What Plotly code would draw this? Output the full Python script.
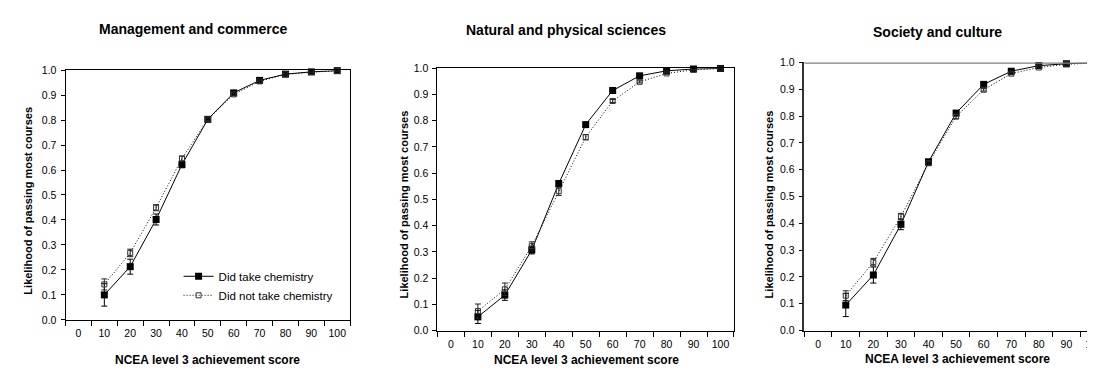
import plotly.graph_objects as go

# ---------------- data ----------------
categories = ["0", "10", "20", "30", "40", "50", "60", "70", "80", "90", "100"]
scores = ["10", "20", "30", "40", "50", "60", "70", "80", "90", "100"]
panel_titles = ["Management and commerce", "Natural and physical sciences", "Society and culture"]
series_names = ["Did take chemistry", "Did not take chemistry"]
x_title = "NCEA level 3 achievement score"
y_title = "Likelihood of passing most courses"

mc_take = [0.100, 0.213, 0.402, 0.622, 0.803, 0.909, 0.959, 0.984, 0.993, 0.998]
mc_take_err = [0.045, 0.030, 0.022, 0.013, 0.006, 0.005, 0.004, 0.003, 0.002, 0.001]
mc_not = [0.142, 0.268, 0.449, 0.646, 0.803, 0.903, 0.955, 0.983, 0.992, 0.997]
mc_not_err = [0.022, 0.015, 0.012, 0.010, 0.005, 0.004, 0.003, 0.002, 0.001, 0.001]

nps_take = [0.052, 0.135, 0.307, 0.560, 0.785, 0.915, 0.971, 0.990, 0.997, 0.999]
nps_take_err = [0.025, 0.020, 0.015, 0.012, 0.006, 0.004, 0.003, 0.002, 0.001, 0.001]
nps_not = [0.074, 0.157, 0.322, 0.531, 0.737, 0.875, 0.948, 0.980, 0.994, 0.999]
nps_not_err = [0.027, 0.024, 0.016, 0.016, 0.010, 0.006, 0.004, 0.003, 0.002, 0.001]

sc_take = [0.095, 0.207, 0.396, 0.629, 0.811, 0.918, 0.967, 0.988, 0.995, 0.999]
sc_take_err = [0.043, 0.030, 0.020, 0.010, 0.008, 0.005, 0.004, 0.003, 0.002, 0.001]
sc_not = [0.130, 0.255, 0.425, 0.624, 0.798, 0.898, 0.958, 0.981, 0.993, 0.998]
sc_not_err = [0.018, 0.014, 0.012, 0.008, 0.008, 0.005, 0.004, 0.003, 0.002, 0.001]

# ---------------- layout geometry ----------------
W, H = 1095, 374
FONT = "Liberation Sans, Arial, sans-serif"

def px_x(p):
    return p / W

def px_y(p):
    return 1 - p / H

panels = [
    dict(take=mc_take, take_err=mc_take_err, nt=mc_not, nt_err=mc_not_err,
         xd=[px_x(58), px_x(345)], yd=[px_y(316), px_y(58)], xr=[-0.5, 10.5],
         title_xy=(187, 15), ytitle_xy=(20, 193), xtitle_xy=(201, 357)),
    dict(take=nps_take, take_err=nps_take_err, nt=nps_not, nt_err=nps_not_err,
         xd=[px_x(433), px_x(732)], yd=[px_y(327), px_y(56)], xr=[-0.5, 10.5],
         title_xy=(563, 17), ytitle_xy=(399, 197), xtitle_xy=(583, 357)),
    dict(take=sc_take, take_err=sc_take_err, nt=sc_not, nt_err=sc_not_err,
         xd=[px_x(803), 1.0], yd=[px_y(327), px_y(50)], xr=[-0.5, 10.0],
         title_xy=(937, 19), ytitle_xy=(767, 197), xtitle_xy=(957, 356)),
]

fig = go.Figure()
annotations = []
shapes = []

for i, p in enumerate(panels):
    n = i + 1
    xa = "x" if n == 1 else f"x{n}"
    ya = "y" if n == 1 else f"y{n}"
    fig.add_trace(go.Scatter(
        x=scores, y=p["take"], xaxis=xa, yaxis=ya, mode="lines+markers",
        name=series_names[0], showlegend=(n == 1), legendgroup="take",
        line=dict(color="black", width=1),
        marker=dict(symbol="square", size=7, color="black"),
        error_y=dict(type="data", array=p["take_err"], visible=True,
                     color="black", thickness=1, width=3),
        cliponaxis=False,
    ))
    fig.add_trace(go.Scatter(
        x=scores, y=p["nt"], xaxis=xa, yaxis=ya, mode="lines+markers",
        name=series_names[1], showlegend=(n == 1), legendgroup="not",
        line=dict(color="black", width=1, dash="1px,2px"),
        marker=dict(symbol="square-open", size=5, color="#333333",
                    line=dict(width=1)),
        error_y=dict(type="data", array=p["nt_err"], visible=True,
                     color="#222222", thickness=1, width=3),
        cliponaxis=False,
    ))

    is_last = (n == 3)
    axis_col = "#333333" if is_last else "black"
    fig.update_layout(**{
        ("xaxis" if n == 1 else f"xaxis{n}"): dict(
            domain=p["xd"], anchor=ya, type="category",
            categoryorder="array", categoryarray=categories,
            range=p["xr"], tickson="boundaries", ticks="outside", ticklen=5,
            tickcolor="black", showline=True, linecolor="black", linewidth=1,
            mirror=(not is_last), showgrid=False, zeroline=False, tickangle=0,
            tickfont=dict(size=10.5, color="black", family=FONT),
            ticklabelstandoff=4, fixedrange=True,
        ),
        ("yaxis" if n == 1 else f"yaxis{n}"): dict(
            domain=p["yd"], anchor=xa, range=[0, 1], dtick=0.1, tick0=0,
            tickformat=".1f", ticks="outside", ticklen=4, tickcolor="black",
            showline=True, linecolor=axis_col, linewidth=(1.5 if is_last else 1),
            mirror=(not is_last), showgrid=False, zeroline=False,
            tickfont=dict(size=10.5, color="black", family=FONT),
            ticklabelstandoff=2, fixedrange=True,
        ),
    })

    tx, ty = p["title_xy"]
    annotations.append(dict(text=f"<b>{panel_titles[i]}</b>", x=px_x(tx), y=px_y(ty),
                            xref="paper", yref="paper", showarrow=False,
                            xanchor="center", yanchor="middle",
                            font=dict(size=14, family=FONT, color="black")))
    yx, yy = p["ytitle_xy"]
    annotations.append(dict(text=f"<b>{y_title}</b>", x=px_x(yx), y=px_y(yy),
                            xref="paper", yref="paper", showarrow=False, textangle=-90,
                            xanchor="center", yanchor="middle",
                            font=dict(size=11, family=FONT, color="black")))
    xx, xy = p["xtitle_xy"]
    annotations.append(dict(text=f"<b>{x_title}</b>", x=px_x(xx), y=px_y(xy),
                            xref="paper", yref="paper", showarrow=False,
                            xanchor="center", yanchor="middle",
                            font=dict(size=12, family=FONT, color="black")))

# gray top border of the third panel
shapes.append(dict(type="line", xref="x3 domain", yref="y3", x0=0, x1=1, y0=1, y1=1,
                   line=dict(color="#808080", width=2.5)))

fig.update_layout(
    width=W, height=H,
    margin=dict(l=0, r=0, t=0, b=0),
    paper_bgcolor="white", plot_bgcolor="white",
    font=dict(family=FONT, size=10, color="black"),
    annotations=annotations, shapes=shapes,
    showlegend=True,
    legend=dict(x=px_x(172), y=px_y(256), xanchor="left", yanchor="top",
                bgcolor="rgba(0,0,0,0)", font=dict(size=11.5, family=FONT, color="black"),
                tracegroupgap=0),
)

fig.write_html("out.html")
